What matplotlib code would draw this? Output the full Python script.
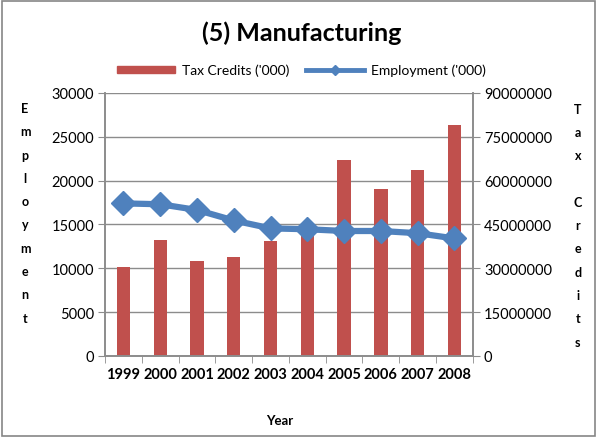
import matplotlib.pyplot as plt
from matplotlib.patches import Rectangle, Patch
from matplotlib.lines import Line2D
from matplotlib.ticker import FormatStrFormatter

# (5) Manufacturing: tax credits (bars, right axis) vs employment (line, left axis)
years = ["1999", "2000", "2001", "2002", "2003", "2004", "2005", "2006", "2007", "2008"]
tax_credits = [30500000, 39700000, 32600000, 33900000, 39300000, 42500000,
               67000000, 57100000, 63700000, 79000000]
employment = [17400, 17300, 16650, 15450, 14550, 14450, 14250, 14250, 14000, 13400]

RED = "#C0504D"
BLUE = "#4F81BD"
GRID = "#8C8C8C"
FONT = "Lato"

plt.rcParams["font.family"] = [FONT, "DejaVu Sans"]

fig = plt.figure(figsize=(5.97, 4.39), dpi=100)
fig.patches.append(Rectangle((0.003, 0.005), 0.994, 0.99, transform=fig.transFigure,
                             fill=False, edgecolor="#868686", linewidth=1.2))

ax_tc = fig.add_axes([0.176, 0.187, 0.616, 0.599])
ax_emp = ax_tc.twinx()

x = list(range(len(years)))

# bars on the tax credit axis (right)
ax_tc.bar(x, tax_credits, width=0.36, color=RED, zorder=2)
ax_tc.set_ylim(0, 90000000)
ax_tc.set_yticks(range(0, 90000001, 15000000))
ax_tc.yaxis.set_major_formatter(FormatStrFormatter("%d"))
ax_tc.yaxis.tick_right()
ax_tc.grid(axis="y", color=GRID, linewidth=1, zorder=0)
ax_tc.set_axisbelow(True)

# employment line on the left axis, drawn above bars
ax_emp.plot(x, employment, color=BLUE, linewidth=4.5, marker="D", markersize=12, zorder=3)
ax_emp.set_ylim(0, 30000)
ax_emp.set_yticks(range(0, 30001, 5000))
ax_emp.yaxis.tick_left()
ax_emp.set_zorder(ax_tc.get_zorder() + 1)
ax_emp.patch.set_visible(False)

ax_tc.set_xlim(-0.5, len(years) - 0.5)
ax_tc.set_xticks(x)
ax_tc.set_xticklabels(years, fontweight="bold", fontsize=10.5)
ax_tc.set_xticks([i - 0.5 for i in range(len(years) + 1)], minor=True)
ax_tc.tick_params(axis="x", which="major", length=0, pad=8)
ax_tc.tick_params(axis="x", which="minor", length=5, color=GRID, direction="out")
ax_tc.tick_params(axis="y", length=5, color=GRID, labelsize=10.5, pad=3)
ax_emp.tick_params(axis="y", length=5, color=GRID, labelsize=10.5, pad=3)

for a in (ax_tc, ax_emp):
    a.spines["top"].set_visible(False)
    for s in ("left", "right", "bottom"):
        a.spines[s].set_color(GRID)
        a.spines[s].set_linewidth(1.2)

fig.text(0.505, 0.925, "(5) Manufacturing", ha="center", va="center",
         fontsize=18, fontweight="bold")
fig.text(0.469, 0.04, "Year", ha="center", va="center", fontsize=9.5, fontweight="bold")
fig.text(0.042, 0.513, "\n".join("Employment"), ha="center", va="center",
         fontsize=9, fontweight="bold", linespacing=2.13)
fig.text(0.968, 0.485, "\n".join("Tax Credits"), ha="center", va="center",
         fontsize=9, fontweight="bold", linespacing=2.13)

handles = [Patch(color=RED),
           Line2D([], [], color=BLUE, linewidth=3.5, marker="D", markersize=5)]
fig.legend(handles, ["Tax Credits ('000)", "Employment ('000)"], loc="center",
           bbox_to_anchor=(0.505, 0.838), ncol=2, frameon=False, fontsize=10,
           handlelength=4.2, handleheight=0.45, columnspacing=1.2, handletextpad=0.5)

fig.savefig("out.png", dpi=100)
